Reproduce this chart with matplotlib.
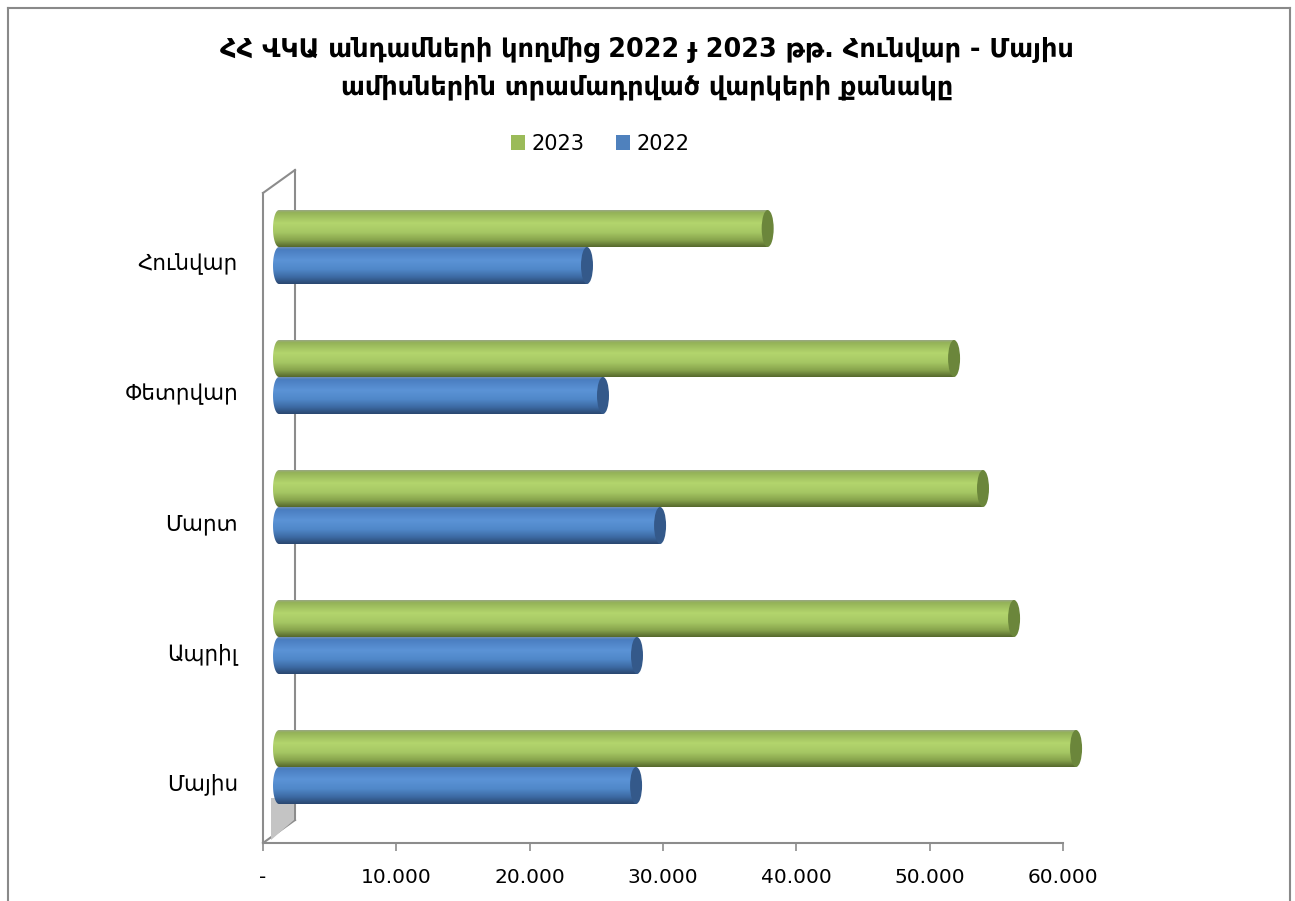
import numpy as np
import matplotlib
matplotlib.use("Agg")
import matplotlib.pyplot as plt
from matplotlib.colors import LinearSegmentedColormap
from matplotlib.patches import Ellipse, PathPatch, Polygon, Patch
from matplotlib.path import Path
from matplotlib.ticker import FuncFormatter

plt.rcParams['font.family'] = ['DejaVu Sans']

## Données ##
months = ['Հունվար', 'Փետրվար', 'Մարտ', 'Ապրիլ', 'Մայիս']
v2023 = [36650, 50630, 52800, 55130, 59780]
v2022 = [23100, 24300, 28580, 26850, 26780]
title = 'ՀՀ ՎԿԱ անդամների կողմից 2022 ɟ 2023 թթ. Հունվար - Մայիս\nամիսներին տրամադրված վարկերի քանակը'

W, H = 1295, 901
fig = plt.figure(figsize=(W / 100, H / 100), dpi=100)

# axes: 0 -> 263px, 60000 -> 1063px, top 170px, bottom 843px
ax = fig.add_axes([263 / W, (H - 843) / H, 800 / W, (843 - 170) / H])
XMAX = 60000
ux = XMAX / 800.0          # unités par pixel (x)
uy = 1 / 130.0             # unités par pixel (y)
ytop = -77 * uy
ybot = ytop + 673 * uy

depth_x = 32 * ux
depth_y = 23 * uy
shift_x = depth_x / 2      # les cylindres sont au milieu de la profondeur
bar_h = 37 * uy
ry = bar_h / 2
rx = 6 * ux

green_cm = LinearSegmentedColormap.from_list('g', [
    (0.0, '#9aa785'), (0.06, '#93b257'), (0.35, '#b3d56d'),
    (0.6, '#a6c764'), (0.82, '#87a34c'), (1.0, '#56692d')])
blue_cm = LinearSegmentedColormap.from_list('b', [
    (0.0, '#6f8fb8'), (0.06, '#4a7dc0'), (0.35, '#5b93d6'),
    (0.6, '#5088c9'), (0.82, '#3c69a2'), (1.0, '#2a4770')])
grad = np.linspace(0, 1, 100).reshape(-1, 1)


def cylinder(value, yc, cmap, capcolor):
    x0 = shift_x
    x1 = shift_x + value
    th = np.linspace(np.pi / 2, 3 * np.pi / 2, 40)
    verts = [(x0 + rx * np.cos(t), yc - ry * np.sin(t)) for t in th]
    verts += [(x1, yc + ry), (x1, yc - ry), verts[0]]
    clip = PathPatch(Path(verts), transform=ax.transData, facecolor='none', edgecolor='none')
    ax.add_patch(clip)
    im = ax.imshow(grad, cmap=cmap, extent=(x0 - rx, x1, yc + ry, yc - ry),
                   origin='upper', aspect='auto', zorder=3, interpolation='bilinear')
    im.set_clip_box(fig.bbox)
    im.set_clip_path(clip)
    ax.add_patch(Ellipse((x1, yc), 2 * rx, bar_h, facecolor=capcolor,
                         edgecolor='none', zorder=4, clip_on=False))


# mur du fond
wall_col = '#8c8c8c'
ax.plot([0, 0], [ytop + depth_y, ybot], color=wall_col, lw=1.5, clip_on=False, zorder=1)
ax.plot([depth_x, depth_x], [ytop, ybot - depth_y], color=wall_col, lw=1.5, clip_on=False, zorder=1)
ax.plot([0, depth_x], [ytop + depth_y, ytop], color=wall_col, lw=1.5, clip_on=False, zorder=1)
ax.plot([0, depth_x], [ybot, ybot - depth_y], color=wall_col, lw=1.5, clip_on=False, zorder=1)
ax.add_patch(Polygon([(8 * ux, ybot - 3 * uy), (depth_x - 1 * ux, ybot - depth_y),
                      (depth_x - 1 * ux, ybot - 45 * uy), (8 * ux, ybot - 45 * uy)],
                     closed=True, facecolor='#c4c4c4', edgecolor='none', zorder=1, clip_on=False))

idx = np.arange(len(months))
for i in idx:
    cylinder(v2023[i], i - ry, green_cm, '#6b863b')
    cylinder(v2022[i], i + ry, blue_cm, '#34598a')

ax.set_xlim(0, XMAX)
ax.set_ylim(ybot, ytop)
ax.set_xticks(np.arange(0, 60001, 10000))
ax.xaxis.set_major_formatter(FuncFormatter(
    lambda v, p: '-' if v == 0 else f'{int(v):,}'.replace(',', '.')))
ax.set_yticks(idx + 0.115)
ax.set_yticklabels(months)
ax.tick_params(axis='y', length=0, pad=18, labelsize=15.5)
ax.tick_params(axis='x', direction='out', length=6, width=1.2, color=wall_col,
               labelsize=14.5, pad=12)
for s in ['top', 'right', 'left']:
    ax.spines[s].set_visible(False)
ax.spines['bottom'].set_color(wall_col)
ax.spines['bottom'].set_linewidth(1.5)
ax.patch.set_alpha(0)

# titre et légende
fig.text(647 / W, 1 - 69 / H, title, ha='center', va='center', fontsize=18.4,
         fontweight='bold', linespacing=1.58)
handles = [Patch(facecolor='#9bbb59', label='2023'), Patch(facecolor='#4f81bd', label='2022')]
fig.legend(handles=handles, loc='center', bbox_to_anchor=(600 / W, 1 - 144 / H), ncol=2,
           frameon=False, fontsize=15, handlelength=0.7, handleheight=0.7,
           handletextpad=0.3, columnspacing=1.5)

# cadre du graphique
fr = '#898989'
fig.add_artist(plt.Line2D([8 / W, 8 / W], [0, 1 - 8 / H], color=fr, lw=1.5))
fig.add_artist(plt.Line2D([8 / W, 1290 / W], [1 - 8 / H, 1 - 8 / H], color=fr, lw=1.5))
fig.add_artist(plt.Line2D([1290 / W, 1290 / W], [0, 1 - 8 / H], color=fr, lw=1.5))

fig.savefig('out.png', dpi=100, facecolor='white')
